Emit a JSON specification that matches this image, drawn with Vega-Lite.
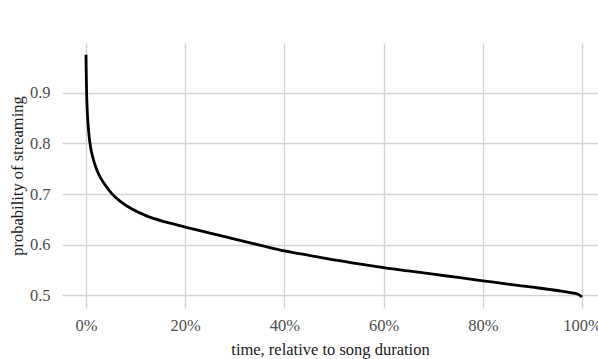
{
  "$schema": "https://vega.github.io/schema/vega-lite/v6.json",
  "autosize": {"type": "none"},
  "padding": {"left": 62, "top": 43, "right": 0, "bottom": 51},
  "width": 536,
  "height": 265,
  "background": "white",
  "config": {
    "view": {"stroke": null},
    "font": "Liberation Serif",
    "axis": {
      "labelFont": "Liberation Serif",
      "titleFont": "Liberation Serif",
      "labelFontSize": 16.5,
      "titleFontSize": 16.5,
      "titleFontWeight": "normal",
      "labelColor": "#4d4d4d",
      "titleColor": "#1a1a1a",
      "domain": false,
      "ticks": false,
      "gridColor": "#d3d3d3",
      "gridWidth": 1.4
    }
  },
  "data": {
    "values": [
      {"t": 0.0, "p": 0.975},
      {"t": 0.0003, "p": 0.95},
      {"t": 0.0007, "p": 0.925},
      {"t": 0.0012, "p": 0.9},
      {"t": 0.002, "p": 0.876},
      {"t": 0.003, "p": 0.855},
      {"t": 0.0045, "p": 0.834},
      {"t": 0.0065, "p": 0.812},
      {"t": 0.009, "p": 0.794},
      {"t": 0.0125, "p": 0.777},
      {"t": 0.017, "p": 0.761},
      {"t": 0.0225, "p": 0.746},
      {"t": 0.03, "p": 0.731},
      {"t": 0.04, "p": 0.716},
      {"t": 0.052, "p": 0.701},
      {"t": 0.0685, "p": 0.686},
      {"t": 0.09, "p": 0.672},
      {"t": 0.122, "p": 0.657},
      {"t": 0.16, "p": 0.645},
      {"t": 0.2, "p": 0.635},
      {"t": 0.25, "p": 0.623},
      {"t": 0.3, "p": 0.611},
      {"t": 0.35, "p": 0.5995},
      {"t": 0.4, "p": 0.588},
      {"t": 0.45, "p": 0.579},
      {"t": 0.5, "p": 0.57},
      {"t": 0.55, "p": 0.5625},
      {"t": 0.6, "p": 0.555},
      {"t": 0.65, "p": 0.5485},
      {"t": 0.7, "p": 0.542},
      {"t": 0.75, "p": 0.5355},
      {"t": 0.8, "p": 0.529},
      {"t": 0.85, "p": 0.5225},
      {"t": 0.9, "p": 0.5163},
      {"t": 0.95, "p": 0.5098},
      {"t": 0.98, "p": 0.5052},
      {"t": 0.993, "p": 0.502},
      {"t": 1.0, "p": 0.497}
    ]
  },
  "mark": {"type": "line", "color": "black", "strokeWidth": 2.8, "interpolate": "monotone"},
  "encoding": {
    "x": {
      "field": "t",
      "type": "quantitative",
      "scale": {"domain": [-0.0484, 1.0323], "nice": false, "zero": false},
      "axis": {
        "title": "time, relative to song duration",
        "values": [0, 0.2, 0.4, 0.6, 0.8, 1.0],
        "format": ".0%",
        "labelPadding": 9,
        "titlePadding": 8,
        "labelFlush": false,
        "labelOverlap": false
      }
    },
    "y": {
      "field": "p",
      "type": "quantitative",
      "scale": {"domain": [0.4753, 0.998], "nice": false, "zero": false},
      "axis": {
        "title": "probability of streaming",
        "values": [0.5, 0.6, 0.7, 0.8, 0.9],
        "format": ".1f",
        "labelPadding": 12,
        "titlePadding": 4,
        "labelFlush": false,
        "labelOverlap": false
      }
    }
  }
}
